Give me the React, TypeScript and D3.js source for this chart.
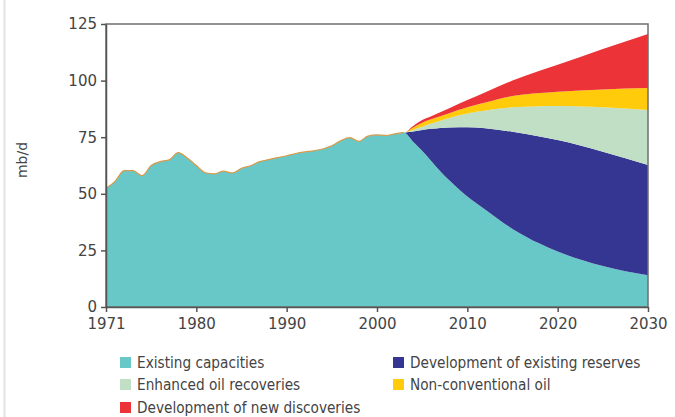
import * as d3 from "d3";
import { useEffect, useRef } from "react";

// x positions: the first historical point is labelled "1971" on the axis
const histYears = d3.range(1970, 2004);
const histExisting = [
  52.4, 55.5, 60.2, 60.2, 58, 62.5, 64.2, 65, 68.2, 65.8, 62.5, 59.3, 58.8, 60,
  59.2, 61.3, 62.4, 64.2, 65.1, 66, 66.8, 67.8, 68.5, 69, 69.8, 71.2, 73.5, 74.8,
  73.2, 75.5, 76, 75.8, 76.5, 77,
];

const projYears = [2004, 2005, 2006, 2007, 2008, 2010, 2012, 2015, 2018, 2020, 2025, 2030];
const projExisting = [73, 69, 64.5, 60, 56, 48.8, 43, 34.5, 28, 24.5, 18.1, 14];
const projReserves = [4.5, 9.2, 14.2, 19.1, 23.3, 30.6, 36, 42.9, 47.3, 49.3, 50.5, 48.7];
const projEor = [0.7, 1.4, 2.3, 3.2, 4.2, 6.1, 7.8, 10.8, 13.4, 15, 19.6, 24.3];
const projNonConv = [1.1, 1.8, 1.9, 2.0, 2.1, 2.7, 3.5, 5.0, 5.8, 6.3, 7.9, 9.7];
const projNewDisc = [0.7, 1.2, 1.4, 1.7, 2.2, 3.2, 4.6, 6.8, 9.8, 11.9, 17.9, 23.9];

const yTicks = [0, 25, 50, 75, 100, 125];
const xTicks = [1970, 1980, 1990, 2000, 2010, 2020, 2030];
const xTickLabels = ["1971", "1980", "1990", "2000", "2010", "2020", "2030"];

const keys = ["existing", "reserves", "eor", "nonconv", "newdisc"];
const labels = [
  "Existing capacities",
  "Development of existing reserves",
  "Enhanced oil recoveries",
  "Non-conventional oil",
  "Development of new discoveries",
];
const colors = ["#68c8c8", "#353592", "#c0dfc5", "#ffcb0b", "#ec3338"];

export default function App() {
  const svgRef = useRef<SVGSVGElement | null>(null);

  useEffect(() => {
    const svg = d3.select(svgRef.current);
    svg.selectAll("*").remove();

    const width = 675;
    const height = 417;
    const margin = { top: 24, right: 27, bottom: 110, left: 106 };
    const font = "'DejaVu Sans', sans-serif";

    // build rows for stacking
    const rows: any[] = [];
    histYears.forEach((yr, i) => {
      rows.push({ year: yr, existing: histExisting[i], reserves: 0, eor: 0, nonconv: 0, newdisc: 0 });
    });
    projYears.forEach((yr, i) => {
      rows.push({
        year: yr,
        existing: projExisting[i],
        reserves: projReserves[i],
        eor: projEor[i],
        nonconv: projNonConv[i],
        newdisc: projNewDisc[i],
      });
    });

    const x = d3
      .scaleLinear()
      .domain([1970, 2030])
      .range([margin.left, width - margin.right]);
    const y = d3
      .scaleLinear()
      .domain([0, 125])
      .range([height - margin.bottom, margin.top]);

    const series = d3.stack().keys(keys)(rows);

    const area = d3
      .area<any>()
      .x((d) => x(d.data.year))
      .y0((d) => y(d[0]))
      .y1((d) => y(d[1]))
      .curve(d3.curveMonotoneX);

    // faint image border on the left
    svg
      .append("line")
      .attr("x1", 4.5)
      .attr("x2", 4.5)
      .attr("y1", 0)
      .attr("y2", height)
      .attr("stroke", "#e2e2e2")
      .attr("stroke-width", 2);

    svg
      .append("g")
      .selectAll("path")
      .data(series)
      .join("path")
      .attr("d", area)
      .attr("fill", (_, i) => colors[i]);

    // thin outline on the historical total
    const histRows = rows.filter((r) => r.year <= 2003);
    svg
      .append("path")
      .datum(histRows)
      .attr(
        "d",
        d3
          .line<any>()
          .x((d) => x(d.year))
          .y((d) => y(d.existing))
          .curve(d3.curveMonotoneX)
      )
      .attr("fill", "none")
      .attr("stroke", "#d99a4a")
      .attr("stroke-width", 1.2);

    // frame
    svg
      .append("rect")
      .attr("x", margin.left)
      .attr("y", margin.top)
      .attr("width", width - margin.left - margin.right)
      .attr("height", height - margin.top - margin.bottom)
      .attr("fill", "none")
      .attr("stroke", "#6f6f6f")
      .attr("stroke-width", 1.5);

    // Y axis
    const yAxis = svg
      .append("g")
      .attr("transform", `translate(${margin.left},0)`)
      .call(d3.axisLeft(y).tickValues(yTicks).tickSize(5).tickPadding(4).tickSizeOuter(0));
    yAxis.select(".domain").attr("stroke", "#555").attr("stroke-width", 1.5);
    yAxis.selectAll(".tick line").attr("stroke", "#555").attr("stroke-width", 1.5);
    yAxis
      .selectAll("text")
      .attr("fill", "#444")
      .style("font-family", font)
      .style("font-size", "15px");

    // X axis
    const xAxis = svg
      .append("g")
      .attr("transform", `translate(0,${height - margin.bottom})`)
      .call(
        d3
          .axisBottom(x)
          .tickValues(xTicks)
          .tickFormat((_, i) => xTickLabels[i])
          .tickSize(5)
          .tickPadding(6)
          .tickSizeOuter(0)
      );
    xAxis.select(".domain").attr("stroke", "#555").attr("stroke-width", 1.5);
    xAxis.selectAll(".tick line").attr("stroke", "#555").attr("stroke-width", 1.5);
    xAxis
      .selectAll("text")
      .attr("fill", "#444")
      .style("font-family", font)
      .style("font-size", "15px");

    // Y axis label
    svg
      .append("text")
      .attr("text-anchor", "middle")
      .attr("transform", "rotate(-90)")
      .attr("x", -160)
      .attr("y", 27)
      .attr("fill", "#444")
      .style("font-family", font)
      .style("font-size", "14px")
      .text("mb/d");

    // legend
    const legendPos = [
      [120, 363],
      [393, 363],
      [120, 385],
      [393, 385],
      [120, 408],
    ];
    const legend = svg
      .append("g")
      .selectAll("g")
      .data(labels)
      .join("g")
      .attr("transform", (_, i) => `translate(${legendPos[i][0]},${legendPos[i][1]})`);
    legend
      .append("rect")
      .attr("x", 0)
      .attr("y", -6)
      .attr("width", 11)
      .attr("height", 11)
      .attr("fill", (_, i) => colors[i]);
    legend
      .append("text")
      .attr("x", 17)
      .attr("dy", "0.35em")
      .attr("fill", "#444")
      .style("font-family", "'Liberation Sans Narrow', 'DejaVu Sans Condensed', sans-serif")
      .style("font-stretch", "condensed")
      .style("font-size", "15.2px")
      .text((d) => d);
  }, []);

  return (
    <svg
      ref={svgRef}
      width={675}
      height={417}
      style={{ position: "absolute", left: 0, top: 0, background: "#fff" }}
    ></svg>
  );
}
